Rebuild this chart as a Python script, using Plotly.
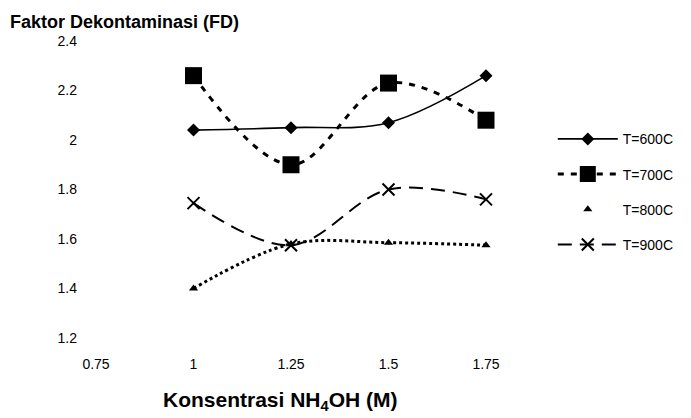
import plotly.graph_objects as go

konsentrasi = [1.0, 1.25, 1.5, 1.75]
fd_600 = [2.04, 2.05, 2.07, 2.26]
fd_700 = [2.26, 1.90, 2.23, 2.08]
fd_800 = [1.40, 1.58, 1.585, 1.575]
fd_900 = [1.745, 1.575, 1.80, 1.76]

x_ticks = [0.75, 1, 1.25, 1.5, 1.75]
x_tick_text = ["0.75", "1", "1.25", "1.5", "1.75"]
y_ticks = [1.2, 1.4, 1.6, 1.8, 2.0, 2.2, 2.4]
y_tick_text = ["1.2", "1.4", "1.6", "1.8", "2", "2.2", "2.4"]

FONT = "Liberation Sans, Arial, sans-serif"

fig = go.Figure()
fig.add_trace(go.Scatter(
    x=konsentrasi, y=fd_600, name="T=600C", legendgroup="a",
    mode="lines+markers", line=dict(color="black", width=1.6, shape="spline"),
    marker=dict(symbol="diamond", size=10, color="black")))
fig.add_trace(go.Scatter(
    x=konsentrasi, y=fd_700, name="T=700C", legendgroup="b",
    mode="lines+markers", line=dict(color="black", width=3, dash="6px,7px", shape="spline"),
    marker=dict(symbol="square", size=17, color="black")))
fig.add_trace(go.Scatter(
    x=konsentrasi, y=fd_800, name="T=800C", legendgroup="c", showlegend=False,
    mode="lines+markers", line=dict(color="black", width=3, dash="dot", shape="spline"),
    marker=dict(symbol="triangle-up", size=8, color="black")))
fig.add_trace(go.Scatter(
    x=[None], y=[None], name="T=800C", legendgroup="c",
    mode="markers", marker=dict(symbol="triangle-up", size=8, color="black")))
fig.add_trace(go.Scatter(
    x=konsentrasi, y=fd_900, name="T=900C", legendgroup="d",
    mode="lines+markers", line=dict(color="black", width=2, dash="14px,8px", shape="spline"),
    marker=dict(symbol="x-thin", size=12, color="black", line=dict(width=2, color="black"))))

fig.update_layout(
    width=691, height=418,
    margin=dict(l=96, r=166, t=41, b=80),
    paper_bgcolor="white", plot_bgcolor="white",
    font=dict(family=FONT, size=14, color="black"),
    xaxis=dict(range=[0.75, 1.85], tickvals=x_ticks, ticktext=x_tick_text,
               showgrid=False, zeroline=False, showline=False, ticks="",
               ticklabelstandoff=16, tickfont=dict(size=14)),
    yaxis=dict(range=[1.2, 2.4], tickvals=y_ticks, ticktext=y_tick_text,
               showgrid=False, zeroline=False, showline=False, ticks="",
               ticklabelstandoff=18, tickfont=dict(size=14)),
    legend=dict(xref="container", yref="container", x=0.80, y=0.705,
                xanchor="left", yanchor="top", tracegroupgap=14,
                font=dict(size=14), itemwidth=60, bgcolor="rgba(0,0,0,0)"),
    showlegend=True,
    annotations=[
        dict(text="<b>Faktor Dekontaminasi (FD)</b>", xref="paper", yref="paper",
             x=-0.205, y=1.025, xanchor="left", yanchor="bottom", showarrow=False,
             font=dict(size=18, family=FONT)),
        dict(text="<b>Konsentrasi NH<sub>4</sub>OH (M)</b>", xref="paper", yref="paper",
             x=0.43, y=-0.16, xanchor="center", yanchor="top", showarrow=False,
             font=dict(size=21, family=FONT)),
    ],
)

fig.write_html("out.html")
